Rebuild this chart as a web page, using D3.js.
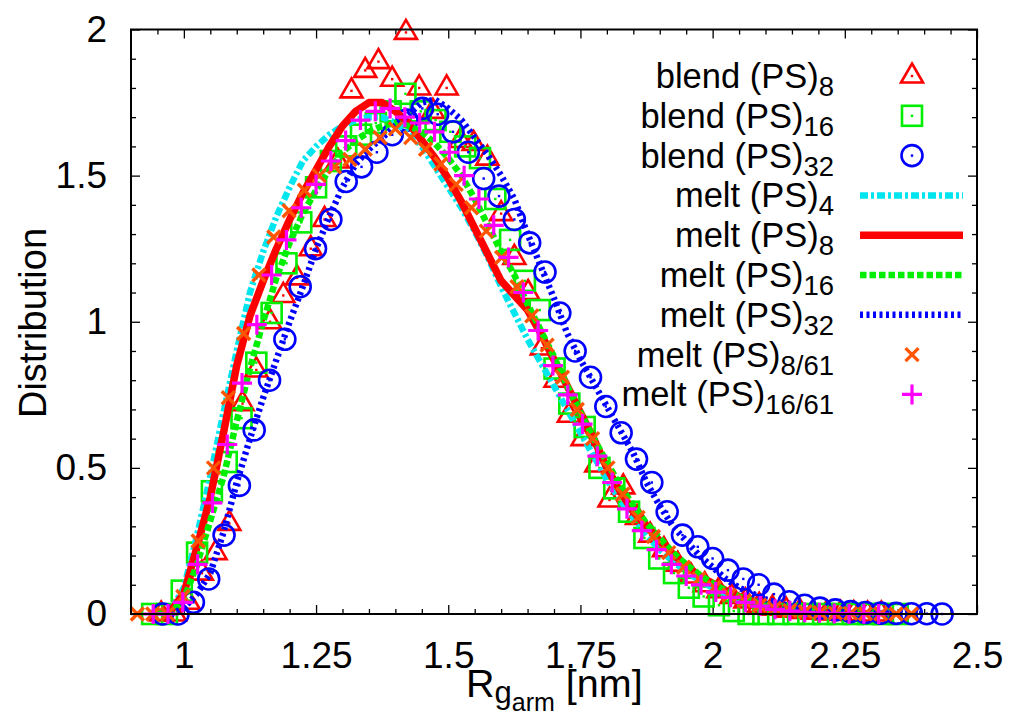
<!DOCTYPE html>
<html><head><meta charset="utf-8">
<script src="https://cdn.jsdelivr.net/npm/d3@7"></script>
<style>body{margin:0;background:#fff}svg{display:block;font-family:"Liberation Sans",Arial,Helvetica,sans-serif}</style>
</head><body><svg id="c" width="1011" height="719"></svg>
<script>
// ---------- DATA ----------
const xTickValues = [1, 1.25, 1.5, 1.75, 2, 2.25, 2.5];
const xTickLabels = ["1", "1.25", "1.5", "1.75", "2", "2.25", "2.5"];
const yTickValues = [0, 0.5, 1, 1.5, 2];
const yTickLabels = ["0", "0.5", "1", "1.5", "2"];

const legendMain = ["blend (PS)", "blend (PS)", "blend (PS)", "melt (PS)", "melt (PS)", "melt (PS)", "melt (PS)", "melt (PS)", "melt (PS)"];
const legendSub  = ["8", "16", "32", "4", "8", "16", "32", "8/61", "16/61"];

const blend8 = [[0.957,0],[0.983,0],[1.009,0.04],[1.034,0.14],[1.060,0.21],[1.086,0.31],[1.111,0.72],[1.137,0.835],[1.163,1.0],[1.188,1.09],[1.214,1.15],[1.240,1.25],[1.266,1.35],[1.291,1.55],[1.317,1.79],[1.343,1.86],[1.368,1.89],[1.394,1.83],[1.420,1.99],[1.445,1.80],[1.471,1.72],[1.497,1.80],[1.523,1.62],[1.548,1.61],[1.574,1.56],[1.600,1.37],[1.625,1.22],[1.651,1.10],[1.677,0.91],[1.703,0.80],[1.728,0.68],[1.754,0.60],[1.780,0.51],[1.805,0.39],[1.831,0.435],[1.857,0.33],[1.882,0.27],[1.908,0.22],[1.934,0.17],[1.959,0.13],[1.985,0.10],[2.011,0.08],[2.036,0.06],[2.062,0.045],[2.088,0.03],[2.113,0.02],[2.139,0.013],[2.165,0.009],[2.190,0.006],[2.216,0.004],[2.242,0.002],[2.267,0.001],[2.293,0],[2.319,0]];

const blend16 = [[0.940,0],[0.968,0],[0.996,0.08],[1.025,0.21],[1.053,0.42],[1.081,0.52],[1.109,0.67],[1.137,0.86],[1.166,1.03],[1.194,1.20],[1.222,1.34],[1.250,1.46],[1.278,1.55],[1.307,1.60],[1.335,1.64],[1.363,1.68],[1.391,1.72],[1.419,1.78],[1.448,1.72],[1.476,1.69],[1.504,1.65],[1.532,1.60],[1.560,1.56],[1.589,1.42],[1.617,1.28],[1.645,1.14],[1.673,1.04],[1.701,0.84],[1.729,0.72],[1.758,0.64],[1.786,0.50],[1.814,0.43],[1.842,0.35],[1.871,0.26],[1.899,0.19],[1.927,0.14],[1.955,0.09],[1.983,0.06],[2.012,0.03],[2.040,0.01],[2.068,0],[2.096,0],[2.124,0],[2.153,0],[2.181,0],[2.209,0],[2.237,0],[2.265,0],[2.294,0],[2.322,0],[2.350,0]];

const blend32 = [[0.960,0],[0.989,0],[1.018,0.04],[1.047,0.12],[1.076,0.27],[1.105,0.44],[1.133,0.63],[1.162,0.80],[1.191,0.94],[1.220,1.12],[1.249,1.25],[1.278,1.35],[1.307,1.48],[1.336,1.53],[1.365,1.58],[1.394,1.64],[1.422,1.69],[1.451,1.73],[1.480,1.71],[1.509,1.65],[1.538,1.58],[1.567,1.49],[1.596,1.43],[1.625,1.35],[1.654,1.27],[1.683,1.17],[1.711,1.03],[1.740,0.90],[1.769,0.81],[1.798,0.71],[1.827,0.62],[1.856,0.53],[1.885,0.45],[1.914,0.35],[1.943,0.27],[1.972,0.23],[2.000,0.19],[2.029,0.15],[2.058,0.12],[2.087,0.10],[2.116,0.068],[2.145,0.042],[2.174,0.03],[2.203,0.02],[2.232,0.014],[2.261,0.008],[2.289,0.005],[2.318,0.003],[2.347,0.002],[2.376,0.001],[2.405,0.001],[2.434,0]];

const melt4 = [[0.95,0],[0.975,0.01],[1.0,0.09],[1.025,0.27],[1.05,0.47],[1.075,0.69],[1.1,0.90],[1.125,1.10],[1.15,1.24],[1.175,1.36],[1.2,1.46],[1.225,1.55],[1.25,1.60],[1.275,1.64],[1.3,1.67],[1.325,1.69],[1.35,1.70],[1.375,1.70],[1.4,1.68],[1.425,1.65],[1.45,1.60],[1.475,1.53],[1.5,1.46],[1.525,1.39],[1.55,1.31],[1.575,1.22],[1.6,1.12],[1.625,1.03],[1.65,0.94],[1.675,0.86],[1.7,0.78],[1.725,0.70],[1.75,0.62],[1.775,0.54],[1.8,0.46],[1.825,0.39],[1.85,0.33],[1.875,0.27],[1.9,0.22],[1.925,0.18],[1.95,0.145],[1.975,0.115],[2.0,0.09],[2.025,0.07],[2.05,0.05],[2.075,0.037],[2.1,0.026],[2.125,0.018],[2.15,0.012],[2.2,0.005],[2.25,0.002],[2.3,0]];

const melt8 = [[0.95,0],[0.975,0.01],[1.0,0.07],[1.025,0.23],[1.05,0.40],[1.075,0.62],[1.1,0.85],[1.125,1.02],[1.15,1.14],[1.175,1.25],[1.2,1.35],[1.225,1.44],[1.25,1.52],[1.275,1.60],[1.3,1.67],[1.325,1.72],[1.35,1.75],[1.375,1.75],[1.4,1.72],[1.425,1.68],[1.45,1.62],[1.475,1.56],[1.5,1.49],[1.525,1.41],[1.55,1.32],[1.575,1.23],[1.6,1.14],[1.625,1.09],[1.65,1.04],[1.675,0.96],[1.7,0.87],[1.725,0.78],[1.75,0.69],[1.775,0.60],[1.8,0.50],[1.825,0.42],[1.85,0.35],[1.875,0.30],[1.9,0.25],[1.925,0.205],[1.95,0.165],[1.975,0.13],[2.0,0.105],[2.025,0.08],[2.05,0.06],[2.075,0.045],[2.1,0.03],[2.125,0.02],[2.15,0.013],[2.175,0.008],[2.2,0.005],[2.25,0.002],[2.3,0]];

const melt16 = [[0.95,0],[0.975,0.005],[1.0,0.05],[1.025,0.17],[1.05,0.32],[1.075,0.47],[1.1,0.66],[1.125,0.84],[1.15,1.00],[1.175,1.15],[1.2,1.27],[1.225,1.37],[1.25,1.45],[1.275,1.52],[1.3,1.58],[1.325,1.62],[1.35,1.65],[1.375,1.67],[1.4,1.68],[1.425,1.67],[1.45,1.65],[1.475,1.61],[1.5,1.56],[1.525,1.50],[1.55,1.42],[1.575,1.33],[1.6,1.24],[1.625,1.16],[1.65,1.06],[1.675,0.97],[1.7,0.88],[1.725,0.78],[1.75,0.69],[1.775,0.60],[1.8,0.52],[1.825,0.44],[1.85,0.37],[1.875,0.31],[1.9,0.26],[1.925,0.21],[1.95,0.17],[1.975,0.135],[2.0,0.105],[2.025,0.08],[2.05,0.06],[2.075,0.045],[2.1,0.033],[2.125,0.023],[2.15,0.016],[2.2,0.007],[2.25,0.003],[2.3,0]];

const melt32 = [[0.975,0],[1.0,0.02],[1.025,0.07],[1.05,0.14],[1.075,0.28],[1.1,0.45],[1.125,0.60],[1.15,0.74],[1.175,0.87],[1.2,1.00],[1.225,1.12],[1.25,1.25],[1.275,1.36],[1.3,1.46],[1.325,1.54],[1.35,1.59],[1.375,1.63],[1.4,1.67],[1.425,1.71],[1.45,1.75],[1.475,1.76],[1.5,1.73],[1.525,1.69],[1.55,1.63],[1.575,1.57],[1.6,1.50],[1.625,1.42],[1.65,1.30],[1.675,1.19],[1.7,1.08],[1.725,0.96],[1.75,0.87],[1.775,0.79],[1.8,0.71],[1.825,0.63],[1.85,0.55],[1.875,0.45],[1.9,0.37],[1.925,0.30],[1.95,0.25],[1.975,0.20],[2.0,0.16],[2.025,0.12],[2.05,0.09],[2.075,0.07],[2.1,0.05],[2.15,0.025],[2.2,0.012],[2.25,0.005],[2.3,0.002],[2.35,0],[2.4,0]];

const melt8_61 = [[0.912,0],[0.941,0],[0.969,0],[0.998,0.06],[1.027,0.25],[1.056,0.50],[1.084,0.74],[1.113,0.96],[1.142,1.16],[1.170,1.29],[1.199,1.38],[1.228,1.45],[1.256,1.50],[1.285,1.53],[1.314,1.555],[1.343,1.59],[1.371,1.63],[1.400,1.66],[1.429,1.63],[1.457,1.59],[1.486,1.54],[1.515,1.47],[1.544,1.39],[1.572,1.31],[1.601,1.22],[1.630,1.12],[1.658,1.02],[1.687,0.92],[1.716,0.81],[1.744,0.70],[1.773,0.60],[1.802,0.50],[1.830,0.41],[1.859,0.33],[1.888,0.265],[1.917,0.21],[1.945,0.16],[1.974,0.12],[2.003,0.09],[2.031,0.065],[2.060,0.045],[2.089,0.03],[2.117,0.02],[2.146,0.012],[2.175,0.008],[2.203,0.005],[2.232,0.003],[2.261,0.002],[2.289,0.001],[2.318,0.001],[2.347,0],[2.376,0]];

const melt16_61 = [[0.942,0],[0.970,0],[0.998,0.04],[1.026,0.17],[1.054,0.38],[1.082,0.58],[1.110,0.79],[1.138,0.99],[1.166,1.16],[1.194,1.28],[1.222,1.39],[1.250,1.47],[1.278,1.55],[1.306,1.62],[1.334,1.69],[1.362,1.72],[1.390,1.73],[1.418,1.70],[1.446,1.68],[1.474,1.65],[1.502,1.58],[1.530,1.50],[1.558,1.42],[1.586,1.33],[1.614,1.22],[1.642,1.10],[1.670,0.97],[1.698,0.85],[1.726,0.75],[1.754,0.65],[1.782,0.54],[1.810,0.45],[1.838,0.36],[1.866,0.285],[1.894,0.22],[1.922,0.17],[1.950,0.13],[1.978,0.10],[2.006,0.075],[2.034,0.057],[2.062,0.04],[2.090,0.027],[2.118,0.016],[2.146,0.01],[2.174,0.006],[2.202,0.004],[2.230,0.002],[2.258,0.001],[2.286,0.001],[2.314,0]];

// ---------- LAYOUT / STYLE ----------
const svg = d3.select("#c");
const L = 131, R = 977, T = 29.5, B = 614;
const x = d3.scaleLinear().domain([0.9, 2.5]).range([L, R]);
const y = d3.scaleLinear().domain([0, 2]).range([B, T]);
const xMinor = d3.range(19, 51).map(i => +(i * 0.05).toFixed(2)).filter(v => v > 0.9 && v < 2.5 && !xTickValues.includes(v));
const yMinor = d3.range(1, 20).map(i => +(i * 0.1).toFixed(1)).filter(v => !yTickValues.includes(v));

const TICKFONT = 37;
svg.append("defs").append("clipPath").attr("id", "clip")
  .append("rect").attr("x", L).attr("y", T).attr("width", R - L).attr("height", B - T);

function styleAxis(g) {
  g.select(".domain").remove();
  g.selectAll(".tick line").attr("stroke", "#000").attr("stroke-width", 1.3);
  g.selectAll("text").attr("fill", "#000").style("font-size", TICKFONT + "px").style("font-family", '"Liberation Sans",Arial,sans-serif');
}
svg.append("g").attr("transform", `translate(0,${B})`)
  .call(d3.axisBottom(x).tickValues(xTickValues).tickFormat((d, i) => xTickLabels[i]).tickSize(-9).tickPadding(28).tickSizeOuter(0))
  .call(styleAxis);
svg.append("g").attr("transform", `translate(0,${B})`)
  .call(d3.axisBottom(x).tickValues(xMinor).tickFormat("").tickSize(-5).tickSizeOuter(0)).call(styleAxis);
svg.append("g").attr("transform", `translate(0,${T})`)
  .call(d3.axisTop(x).tickValues(xTickValues).tickFormat("").tickSize(-9).tickSizeOuter(0)).call(styleAxis);
svg.append("g").attr("transform", `translate(0,${T})`)
  .call(d3.axisTop(x).tickValues(xMinor).tickFormat("").tickSize(-5).tickSizeOuter(0)).call(styleAxis);
svg.append("g").attr("transform", `translate(${L},0)`)
  .call(d3.axisLeft(y).tickValues(yTickValues).tickFormat((d, i) => yTickLabels[i]).tickSize(-9).tickPadding(24).tickSizeOuter(0))
  .call(styleAxis);
svg.append("g").attr("transform", `translate(${L},0)`)
  .call(d3.axisLeft(y).tickValues(yMinor).tickFormat("").tickSize(-5).tickSizeOuter(0)).call(styleAxis);
svg.append("g").attr("transform", `translate(${R},0)`)
  .call(d3.axisRight(y).tickValues(yTickValues).tickFormat("").tickSize(-9).tickSizeOuter(0)).call(styleAxis);
svg.append("g").attr("transform", `translate(${R},0)`)
  .call(d3.axisRight(y).tickValues(yMinor).tickFormat("").tickSize(-5).tickSizeOuter(0)).call(styleAxis);

// axis titles
svg.append("text").attr("transform", "translate(46,323) rotate(-90)").attr("text-anchor", "middle")
  .style("font-size", "38px").text("Distribution");
const xl = svg.append("text").attr("x", 466).attr("y", 697).style("font-size", "39.5px");
xl.append("tspan").text("R");
xl.append("tspan").attr("dy", 6).style("font-size", "31px").text("g");
xl.append("tspan").attr("dy", 8).style("font-size", "25px").text("arm");
xl.append("tspan").attr("dy", -14).style("font-size", "39.5px").text(" [nm]");

// series styles
const lineStyles = {
  melt4:  {color: "#00e5ee", width: 6.5, dash: "8,3,3,3"},
  melt8:  {color: "#ff0000", width: 7.5, dash: null},
  melt16: {color: "#00ee00", width: 6.5, dash: "6.5,3"},
  melt32: {color: "#0000ff", width: 6.5, dash: "3,3.5"}
};
const pointStyles = {
  blend8:  {color: "#ff0000", shape: "tri"},
  blend16: {color: "#00ee00", shape: "sq"},
  blend32: {color: "#0000ff", shape: "circ"},
  m8_61:   {color: "#ff5500", shape: "x"},
  m16_61:  {color: "#ff00ff", shape: "plus"}
};

function marker(sel, st) {
  const sw = 2.6;
  if (st.shape === "tri") {
    sel.append("path").attr("d", "M0,-12.5L11,6.5L-11,6.5Z").attr("fill", "none").attr("stroke", st.color).attr("stroke-width", sw);
  } else if (st.shape === "sq") {
    sel.append("rect").attr("x", -10).attr("y", -10).attr("width", 20).attr("height", 20).attr("fill", "none").attr("stroke", st.color).attr("stroke-width", sw);
  } else if (st.shape === "circ") {
    sel.append("circle").attr("r", 10.5).attr("fill", "none").attr("stroke", st.color).attr("stroke-width", sw);
  } else if (st.shape === "x") {
    sel.append("path").attr("d", "M-6.5,-6.5L6.5,6.5M-6.5,6.5L6.5,-6.5").attr("stroke", st.color).attr("stroke-width", 3.4);
  } else if (st.shape === "plus") {
    sel.append("path").attr("d", "M-10,0L10,0M0,-10L0,10").attr("stroke", st.color).attr("stroke-width", 3.2);
  }
  if (st.shape === "tri" || st.shape === "sq" || st.shape === "circ") {
    sel.append("rect").attr("x", -1.2).attr("y", -1.2).attr("width", 2.4).attr("height", 2.4).attr("fill", st.color);
  }
}

const plot = svg.append("g");
function drawPoints(data, st) {
  plot.append("g").selectAll("g").data(data).join("g")
    .attr("transform", d => `translate(${x(d[0])},${y(d[1])})`)
    .each(function () { marker(d3.select(this), st); });
}
const line = d3.line().x(d => x(d[0])).y(d => y(d[1]));
function drawLine(data, st) {
  plot.append("path").datum(data).attr("d", line).attr("clip-path", "url(#clip)")
    .attr("fill", "none").attr("stroke", st.color).attr("stroke-width", st.width)
    .attr("stroke-linejoin", "round").attr("stroke-dasharray", st.dash);
}

drawPoints(blend8, pointStyles.blend8);
drawPoints(blend16, pointStyles.blend16);
drawPoints(blend32, pointStyles.blend32);
drawLine(melt4, lineStyles.melt4);
drawLine(melt8, lineStyles.melt8);
drawLine(melt16, lineStyles.melt16);
drawLine(melt32, lineStyles.melt32);
drawPoints(melt8_61, pointStyles.m8_61);
drawPoints(melt16_61, pointStyles.m16_61);

// frame
svg.append("rect").attr("x", L).attr("y", T).attr("width", R - L).attr("height", B - T)
  .attr("fill", "none").attr("stroke", "#000").attr("stroke-width", 2);

// legend
const legendStyles = [pointStyles.blend8, pointStyles.blend16, pointStyles.blend32,
  lineStyles.melt4, lineStyles.melt8, lineStyles.melt16, lineStyles.melt32,
  pointStyles.m8_61, pointStyles.m16_61];
const leg = svg.append("g");
legendMain.forEach((t, i) => {
  const cy = 76 + 39.8 * i;
  const tx = leg.append("text").attr("x", 834).attr("y", cy + 12).attr("text-anchor", "end").style("font-size", "34.5px");
  tx.append("tspan").text(t);
  tx.append("tspan").attr("dy", 8).style("font-size", "27.5px").text(legendSub[i]);
  const st = legendStyles[i];
  if (st.shape) {
    marker(leg.append("g").attr("transform", `translate(912,${cy})`), st);
  } else {
    leg.append("line").attr("x1", 860).attr("x2", 963).attr("y1", cy).attr("y2", cy)
      .attr("stroke", st.color).attr("stroke-width", st.width).attr("stroke-dasharray", st.dash);
  }
});
</script></body></html>
